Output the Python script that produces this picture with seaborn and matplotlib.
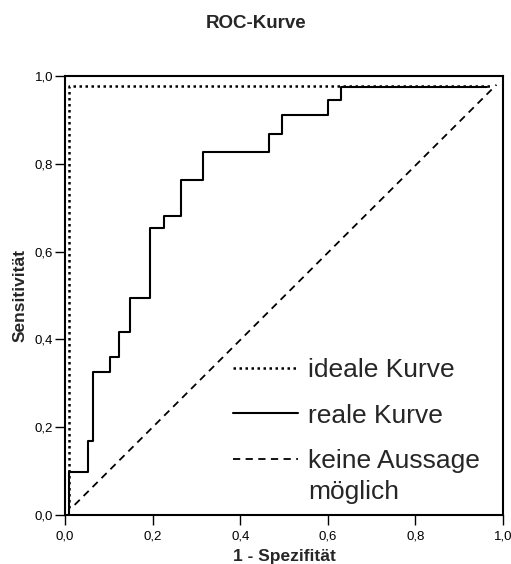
import matplotlib
matplotlib.use("Agg")
import matplotlib.pyplot as plt
import seaborn as sns
import pandas as pd

# ---- data ----
real_fpr = [0.008, 0.008, 0.052, 0.064, 0.102, 0.123, 0.149, 0.193, 0.227,
            0.264, 0.315, 0.465, 0.496, 0.601, 0.629, 0.963]
real_tpr = [0.000, 0.098, 0.168, 0.325, 0.360, 0.417, 0.494, 0.653, 0.682,
            0.763, 0.827, 0.868, 0.912, 0.945, 0.976, 0.976]
ideal_fpr = [0.009, 0.009, 0.977]
ideal_tpr = [0.016, 0.978, 0.978]
diag_fpr = [0.022, 0.985]
diag_tpr = [0.023, 0.980]
tick_vals = [0.0, 0.2, 0.4, 0.6, 0.8, 1.0]
tick_labels = ["0,0", "0,2", "0,4", "0,6", "0,8", "1,0"]
legend_labels = ["ideale Kurve", "reale Kurve", "keine Aussage"]
legend_extra = "möglich"
title = "ROC-Kurve"
xlabel = "1 - Spezifität"
ylabel = "Sensitivität"

sns.set_theme(style="white")
plt.rcParams["font.family"] = ["Liberation Sans", "DejaVu Sans"]

W, H = 511, 564
fig = plt.figure(figsize=(W / 100, H / 100), dpi=100)
ax = fig.add_axes([65 / W, 1 - 515 / H, 438 / W, 439 / H])

sns.lineplot(x=ideal_fpr, y=ideal_tpr, ax=ax, sort=False, estimator=None,
             color="black", lw=1.8, linestyle=(0, (1, 1.4)), label=legend_labels[0])
sns.lineplot(x=real_fpr, y=real_tpr, ax=ax, sort=False, estimator=None,
             color="black", lw=1.5, drawstyle="steps-post", label=legend_labels[1])
sns.lineplot(x=diag_fpr, y=diag_tpr, ax=ax, sort=False, estimator=None,
             color="black", lw=1.3, linestyle=(0, (4, 3)), label=legend_labels[2])

ax.set_xlim(0, 1)
ax.set_ylim(0, 1)
ax.set_xticks(tick_vals)
ax.set_xticklabels(tick_labels)
ax.set_yticks(tick_vals)
ax.set_yticklabels(tick_labels)
ax.tick_params(axis="both", direction="out", length=7, width=1.0,
               color="black", labelsize=9.5, labelcolor="black",
               bottom=True, left=True)
ax.tick_params(axis="x", pad=4)
ax.tick_params(axis="y", pad=1.5)
for s in ax.spines.values():
    s.set_visible(True)
    s.set_color("black")
    s.set_linewidth(1.5)

ax.set_xlabel(xlabel, fontsize=12.5, fontweight="bold", labelpad=5)
ax.set_ylabel(ylabel, fontsize=12.5, fontweight="bold", labelpad=5)
fig.text(256 / W, 1 - 24 / H, title, ha="center", va="center",
         fontsize=13.5, fontweight="bold")

fs = 19
leg = ax.legend(loc="upper left", bbox_to_anchor=((233 - 65) / 438, (515 - 358) / 439),
                frameon=False, fontsize=fs, handlelength=2.46, handletextpad=0.38,
                labelspacing=0.82, borderpad=0, borderaxespad=0)
ax.text((308 - 65) / 438, (515 - 492) / 439, legend_extra, transform=ax.transAxes,
        ha="left", va="center", fontsize=fs)

fig.savefig("out.png", dpi=100)
